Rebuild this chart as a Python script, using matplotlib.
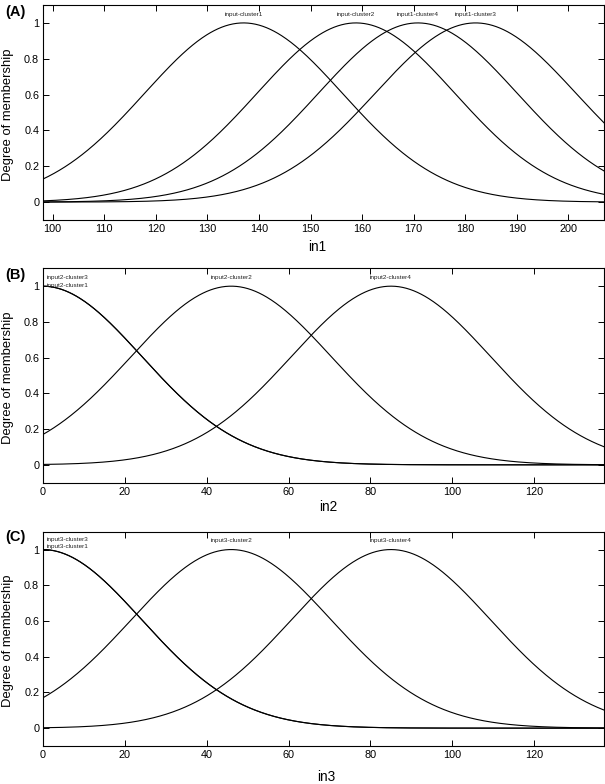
import numpy as np
import matplotlib
matplotlib.use("Agg")
import matplotlib.pyplot as plt

plt.rcParams['font.family'] = ['Liberation Sans', 'DejaVu Sans']

# ---- data: Gaussian membership functions (center, sigma)
in1_names = ["input-cluster1", "input-cluster2", "input1-cluster4", "input1-cluster3"]
in1_centers = [137.0, 158.8, 170.8, 182.0]
in1_sigmas = [19.2, 19.2, 19.3, 19.5]
in1_range = [98.06, 206.9]

in2_names = ["input2-cluster3", "input2-cluster1", "input2-cluster2", "input2-cluster4"]
in2_centers = [0.0, 0.0, 46.0, 85.0]
in2_sigmas = [24.2, 24.2, 24.4, 24.3]
in2_range = [0.0, 137.0]

in3_names = ["input3-cluster3", "input3-cluster1", "input3-cluster2", "input3-cluster4"]
in3_centers = [0.0, 0.0, 46.0, 85.0]
in3_sigmas = [24.2, 24.2, 24.4, 24.3]
in3_range = [0.0, 137.0]

xticks1 = [100, 110, 120, 130, 140, 150, 160, 170, 180, 190, 200]
xticks23 = [0, 20, 40, 60, 80, 100, 120]
yticks = [0, 0.2, 0.4, 0.6, 0.8, 1]
ytick_labels = ["0", "0.2", "0.4", "0.6", "0.8", "1"]

W, H = 605, 784
fig = plt.figure(figsize=(W / 100, H / 100), dpi=100)


def gaussmf(x, c, s):
    return np.exp(-((x - c) ** 2) / (2 * s ** 2))


def panel(box, names, centers, sigmas, rng, xticks, xlabel, label_pos, name_pos, letter, letter_y):
    l, t, r, b = box
    ax = fig.add_axes([l / W, 1 - b / H, (r - l) / W, (b - t) / H])
    x = np.linspace(rng[0], rng[1], 600)
    for c, s in zip(centers, sigmas):
        ax.plot(x, gaussmf(x, c, s), color='black', lw=0.8)
    for (nx, ny, ha), nm in zip(name_pos, names):
        ax.text(nx, ny, nm, fontsize=4.6, ha=ha, va='center', color='#222222')
    ax.set_xlim(rng)
    ax.set_ylim(-0.1, 1.1)
    ax.set_xticks(xticks)
    ax.set_yticks(yticks)
    ax.set_yticklabels(ytick_labels)
    ax.tick_params(direction='in', length=4, width=0.7, top=True, right=True,
                   labelsize=7.8, pad=3)
    ax.tick_params(axis='y', pad=2.5)
    for sp in ax.spines.values():
        sp.set_linewidth(0.8)
    ax.set_ylabel("Degree of membership", fontsize=9.4, va='center')
    ax.yaxis.set_label_coords(-0.062, 0.49)
    ax.set_xlabel(xlabel, fontsize=9.8)
    ax.xaxis.set_label_coords(label_pos[0], label_pos[1])
    ax.xaxis.label.set_va('center')
    fig.text(5 / W, 1 - letter_y / H, letter, fontsize=10.5, fontweight='bold',
             ha='left', va='center')
    return ax


panel((42.7, 5, 604, 220), in1_names, in1_centers, in1_sigmas, in1_range, xticks1, "in1",
      (0.489, -0.124),
      [(c, 1.047, 'center') for c in in1_centers], "(A)", 12)

panel((42.7, 268.3, 604, 482.7), in2_names, in2_centers, in2_sigmas, in2_range, xticks23, "in2",
      (0.508, -0.112),
      [(1.0, 1.05, 'left'), (1.0, 1.005, 'left'), (in2_centers[2], 1.05, 'center'),
       (in2_centers[3], 1.05, 'center')], "(B)", 275)

panel((42.7, 531.7, 604, 746), in3_names, in3_centers, in3_sigmas, in3_range, xticks23, "in3",
      (0.506, -0.143),
      [(1.0, 1.058, 'left'), (1.0, 1.015, 'left'), (in3_centers[2], 1.048, 'center'),
       (in3_centers[3], 1.048, 'center')], "(C)", 537)

fig.savefig("out.png", dpi=100)
